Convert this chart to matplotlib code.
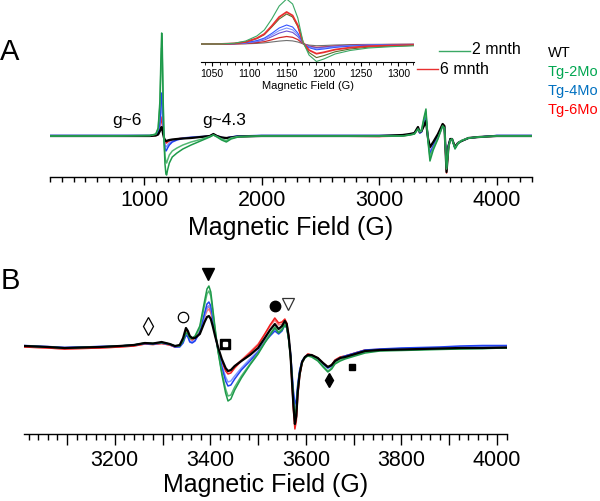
import matplotlib
matplotlib.use('Agg')
import matplotlib.pyplot as plt
from matplotlib.lines import Line2D
from matplotlib.ticker import MultipleLocator, FuncFormatter

plt.rcParams['font.family'] = ['Liberation Sans', 'DejaVu Sans']

# ---------------- data: panel A (full sweep) ----------------
xA = [200, 700, 1050, 1100, 1120, 1135, 1145, 1150, 1155, 1162, 1170, 1178, 1186, 1192, 1200,
      1215, 1240, 1280, 1330, 1400, 1480, 1560, 1590, 1620, 1660, 1700, 1740, 1800, 2000, 2500,
      3000, 3200, 3260, 3300, 3330, 3345, 3360, 3380, 3398, 3415, 3432, 3460, 3500, 3540, 3555,
      3573, 3590, 3605, 3620, 3645, 3670, 3700, 3760, 3850, 4000, 4300]
A_green1 = [0, 0, 0.5, 2, 8, 35, 85, 103, 90, 40, -5, -28, -38, -39, -34, -27, -21, -17, -13, -9,
            -5, -1, 1, -1, -4, -6, -3, -1, 0, 0, 0, 0, 1, 2, 7, 5, 6, 18, 27, -5, -25, -14, -3, 10, 8,
            -32, -12, -4, -3, -13, -8, -5, -2, -1, 0, 0]
A_green2 = [0, 0, 0.4, 1.7, 7, 30, 73, 88, 77, 34, -4, -20, -26, -27, -24, -19, -15, -12, -9, -6,
            -3.5, -0.5, 1, -0.5, -3, -4.5, -2, -0.5, 0, 0, 0, 0, 1, 2, 7, 4, 5, 16, 24, -4, -21, -12, -2,
            10, 8, -33, -11, -4, -3, -12, -7, -4.5, -2, -1, 0, 0]
A_blue1 = [0.5, 0.5, 0.5, 1, 4, 14, 36, 43, 37, 15, -4, -12, -15, -14, -12, -9, -6, -4, -2.5, -1.5,
           -1, 0, 1.5, 0, -1.5, -2, -1, 0, 0.5, 0.5, 0.5, 0.5, 1.5, 2.5, 8, 3, 4, 13, 20, -3, -18, -10,
           0, 11, 9, -28, -9, -3, -3, -12, -7, -5, -2, -1, 0.5, 0.5]
A_blue2 = [0.5, 0.5, 0.5, 1, 3, 10, 26, 32, 27, 11, -3, -9, -11, -10.5, -9, -7, -5, -3, -2, -1,
           -0.5, 0, 1.5, 0, -1.5, -2, -1, 0, 0.5, 0.5, 0.5, 0.5, 1.5, 2.5, 8, 3, 4, 12, 19, -3, -16, -9,
           0, 11, 9, -30, -9, -3, -3, -12, -7, -5, -2, -1, 0.5, 0.5]
A_red = [0, 0, 0, 0.5, 2, 6, 15, 19, 16, 6, -2, -5, -7, -7, -6, -5, -4, -3, -2, -1.5,
         -1, 0, 1.5, 0, -1.5, -2, -1, -0.5, 0, 0, -0.5, 0, 1.5, 2.5, 8, 3, 4, 11, 17, -2, -12, -7, 1,
         12, 10, -37, -10, -3, -3, -11, -7, -5, -2, -1, 0, 0]
A_black = [0, 0, 0, 0.5, 1.5, 5, 8, 9, 7, 2, -2, -4, -5, -5, -4.5, -4, -3.5, -3, -2.5, -2,
           -1, 0, 2, 0, -1.5, -2, -1.5, -0.5, 0, 0, 0, 1, 2, 3, 9, 4, 5, 10, 15, -2, -11, -6, 2, 12, 10,
           -36, -10, -3, -3, -11, -7, -5, -2, -1, 0, 0]

# ---------------- data: inset (g~6 region) ----------------
xI = [1035, 1060, 1080, 1095, 1110, 1120, 1130, 1140, 1150, 1158, 1165, 1172, 1180, 1190, 1200,
      1215, 1235, 1260, 1290, 1321]
I_green1 = [0, 0, 0.8, 3, 8, 14, 25, 38, 45, 40, 26, 2, -11, -17.5, -15, -10, -6.5, -4, -2.7, -1.8]
I_green2 = [0, 0, 0.5, 2, 5.4, 9.3, 17, 25, 30, 27, 17.4, 1.3, -8.5, -13.6, -11.6, -7.8, -5, -3.1, -2.1, -1.4]
I_red1 = [0, 0, 0.6, 2.1, 5.8, 10, 18, 27, 32, 28.5, 18.6, 1.4, -6.1, -9.7, -8.3, -5.6, -3.6, -2.2, -1.5, -1]
I_blue1 = [0, 0, 0.3, 1.3, 3.4, 5.9, 10.6, 16, 19, 17, 11, 0.8, -3.7, -5.8, -5, -3.4, -2.2, -1.3, -0.9, -0.6]
I_blue2 = [0, 0, 0.3, 1.1, 2.9, 5, 9, 13.4, 16, 14.2, 9.3, 0.7, -3, -4.9, -4.2, -2.8, -1.8, -1.1, -0.8, -0.5]
I_blue3 = [0, 0, 0.2, 0.9, 2.3, 4, 7.3, 10.9, 13, 11.6, 7.5, 0.6, -2.4, -3.9, -3.3, -2.2, -1.4, -0.9, -0.6, -0.4]
I_red2 = [0, 0, 0.1, 0.5, 1.4, 2.3, 4.2, 6.3, 7.5, 6.7, 4.4, 0.3, -2.1, -3.4, -2.9, -2, -1.3, -0.8, -0.5, -0.4]
I_grey = [0, 0, 0.1, 0.2, 0.6, 1.1, 2, 2.9, 3.5, 3.1, 2, 0.2, -1.1, -1.7, -1.5, -1, -0.6, -0.4, -0.3, -0.2]

# ---------------- data: panel B (g~2 region) ----------------
xB = [3011, 3060, 3095, 3130, 3169, 3210, 3240, 3263, 3280, 3298, 3315, 3326, 3336, 3343, 3349,
      3353, 3357, 3362, 3368, 3378, 3388, 3393, 3397, 3401, 3405, 3410, 3416, 3424, 3432, 3437,
      3443, 3451, 3465, 3483, 3500, 3514, 3525, 3535, 3543, 3550, 3556, 3560, 3564, 3568, 3571,
      3574, 3577, 3580, 3583, 3587, 3592, 3598, 3604, 3612, 3625, 3636, 3646, 3654, 3661, 3672,
      3682, 3696, 3710, 3724, 3755, 3800, 3839, 3880, 3923, 3970, 4021]
B_black = [0, -1, -2, -1.5, -1, 0, 1, 3, 2.5, 4, 2, 0, 1, 8, 18, 15, 10, 8, 8, 12,
           24, 29, 30, 27, 20, 10, -1, -13, -22, -25, -24, -20, -15, -9, -2, 8, 16, 22, 17, 20,
           25, 22, 10, -10, -36, -60, -78, -70, -46, -28, -16, -11, -9, -9, -12, -17, -21, -19, -15, -12,
           -11, -9, -7, -5, -4, -3.5, -3, -2.5, -2, -2, -1.5]
B_green1 = [0, -1, -2, -1.5, -1, 0, 1, 3, 2.5, 3.5, 2, 0, 0, 5, 13, 12, 8, 8, 10, 20,
            45, 57, 60, 54, 38, 18, -5, -28, -47, -55, -53, -44, -32, -19, -8, 3, 11, 18, 13, 16,
            21, 18, 6, -12, -32, -55, -70, -64, -44, -28, -17, -12, -10, -11, -15, -21, -26, -23, -18, -15,
            -13, -11, -9, -7, -5, -4.5, -4, -3.5, -3, -2.5, -2]
B_green2 = [0, -1, -2, -1.5, -1, 0, 1, 3, 2.5, 3.5, 2, 0, 0.5, 6, 14, 12, 8, 7, 9, 18,
            41, 52, 55, 50, 35, 16, -5, -26, -43, -50, -49, -41, -30, -18, -7, 4, 12, 19, 14, 17,
            22, 19, 7, -11, -31, -54, -68, -62, -42, -27, -16, -11, -10, -10, -14, -20, -25, -22, -17, -14,
            -12, -10, -8, -6, -4.5, -4, -3.5, -3, -2.5, -2.5, -2]
B_blue1 = [0.5, -0.5, -1.5, -1, -0.5, 0, 1, 2.5, 2, 3, 1.5, -1, -1, 3, 11, 9, 4, 3, 5, 14,
           33, 42, 44, 40, 29, 13, -4, -21, -35, -40, -39, -33, -24, -15, -6, 4, 10, 15, 12, 15,
           21, 18, 7, -8, -26, -45, -58, -54, -38, -24, -15, -11, -9, -10, -13, -18, -22, -20, -15, -12,
           -10, -8, -6, -4, -3, -2, -1.5, -1, 0, 0.5, 0.5]
B_blue2 = [0, -1, -1.5, -1, -0.5, 0, 1, 2.5, 2, 3, 1.5, -0.5, 0, 4, 12, 10, 5, 4, 6, 13,
           30, 38, 40, 37, 27, 12, -3, -19, -31, -36, -35, -30, -22, -13, -5, 5, 12, 17, 13, 17,
           22, 19, 8, -8, -28, -48, -62, -57, -40, -25, -15, -11, -9, -10, -13, -18, -22, -20, -15, -12,
           -10, -8.5, -6.5, -4.5, -3.5, -2.5, -2, -1.5, -1, -0.5, 0]
B_red1 = [-1, -2, -3, -2.5, -2, -1, 0, 2, 1.5, 2.5, 1, -1, 0, 6, 15, 13, 8, 6, 8, 14,
          31, 38, 40, 36, 26, 12, -2, -16, -25, -28, -27, -22, -15, -7, 1, 12, 21, 28, 23, 24,
          27, 23, 10, -12, -38, -64, -83, -75, -50, -30, -17, -11, -8, -9, -12, -17, -21, -19, -14, -11,
          -10, -8, -6, -4, -3.5, -3, -2.5, -2, -2, -1.5, -1.5]
B_red2 = [-1, -2, -3, -2.5, -2, -1, 0, 2, 1.5, 2.5, 1, -1, 0, 6, 15, 13, 8, 6, 8, 13,
          29, 35, 37, 33, 24, 11, -2, -15, -23, -26, -25, -20, -14, -6, 2, 12, 20, 26, 21, 22,
          26, 22, 10, -12, -37, -62, -80, -72, -48, -29, -17, -11, -8, -9, -12, -17, -21, -19, -14, -11,
          -10, -8, -6, -4, -3.5, -3, -2.5, -2, -2, -1.5, -1.5]

# marker annotations in panel B
mk_x = [3269, 3342, 3395, 3430, 3535, 3562, 3648, 3696]
mk_y = [20, 29, 72, 2, 40, 42, -34, -21]

legend_groups = ['WT', 'Tg-2Mo', 'Tg-4Mo', 'Tg-6Mo']
legend_colors = ['#000000', '#00a650', '#0070c0', '#ff0000']

# ---------------- figure ----------------
W, H = 600, 502
fig = plt.figure(figsize=(6, 5.02), dpi=100)


def box(l, r, t, b):
    return [l / W, 1 - b / H, (r - l) / W, (b - t) / H]


def style_axis(ax):
    for s in ['top', 'right', 'left']:
        ax.spines[s].set_visible(False)
    ax.spines['bottom'].set_linewidth(1.0)
    ax.set_yticks([])
    ax.patch.set_alpha(0)


c_g1, c_g2 = '#1e9a4a', '#52b873'
c_b1, c_b2 = '#2040f0', '#7f96ff'
c_r1, c_r2 = '#f02020', '#ff7a7a'

# ---- Panel A ----
axA = fig.add_axes(box(50, 532, 30, 178))
style_axis(axA)
lw = 1.1
axA.plot(xA, A_red, color=c_r1, lw=lw)
axA.plot(xA, A_blue2, color=c_b2, lw=lw)
axA.plot(xA, A_blue1, color=c_b1, lw=lw)
axA.plot(xA, A_black, color='black', lw=1.6)
axA.plot(xA, A_green2, color=c_g2, lw=lw)
axA.plot(xA, A_green1, color=c_g1, lw=lw)
axA.set_xlim(200, 4300)
axA.set_ylim(-41, 107)
axA.xaxis.set_major_locator(MultipleLocator(1000))
axA.xaxis.set_minor_locator(MultipleLocator(100))
axA.tick_params(axis='x', which='major', length=6, width=1, pad=3, labelsize=15.5)
axA.tick_params(axis='x', which='minor', length=3.5, width=1)

# ---- Inset ----
axI = fig.add_axes(box(201, 414, 0, 63))
style_axis(axI)
axI.plot(xI, I_grey, color='#707070', lw=0.8)
axI.plot(xI, I_red2, color='#d02828', lw=0.9)
axI.plot(xI, I_blue3, color='#6a50d0', lw=0.8)
axI.plot(xI, I_blue2, color='#8095ff', lw=0.8)
axI.plot(xI, I_blue1, color='#3555ff', lw=0.8)
axI.plot(xI, I_green2, color='#5a6e2a', lw=0.8)
axI.plot(xI, I_red1, color='#e83030', lw=1.3)
axI.plot(xI, I_green1, color='#3aa864', lw=0.8)
axI.set_xlim(1035, 1321)
axI.set_ylim(-18, 45)
axI.xaxis.set_major_locator(MultipleLocator(50))
axI.xaxis.set_minor_locator(MultipleLocator(10))
axI.tick_params(axis='x', which='major', length=3, width=0.8, pad=1.5, labelsize=7.5)
axI.tick_params(axis='x', which='minor', length=2, width=0.6)
for s in axI.spines.values():
    s.set_linewidth(0.8)

# ---- Panel B ----
axB = fig.add_axes(box(24, 507, 265, 435))
style_axis(axB)
axB.plot(xB, B_red2, color=c_r2, lw=lw)
axB.plot(xB, B_red1, color=c_r1, lw=lw)
axB.plot(xB, B_blue2, color=c_b2, lw=lw)
axB.plot(xB, B_blue1, color=c_b1, lw=lw)
axB.plot(xB, B_green2, color=c_g2, lw=lw)
axB.plot(xB, B_green1, color=c_g1, lw=lw)
axB.plot(xB, B_black, color='black', lw=1.6)
axB.set_xlim(3010, 4021)
axB.set_ylim(-88, 82)
axB.xaxis.set_major_locator(MultipleLocator(100))
axB.xaxis.set_minor_locator(MultipleLocator(20))
axB.xaxis.set_major_formatter(FuncFormatter(lambda v, p: f'{int(round(v))}' if int(round(v)) % 200 == 0 else ''))
axB.tick_params(axis='x', which='major', length=8, width=1, pad=3, labelsize=15.5)
axB.tick_params(axis='x', which='minor', length=4.5, width=1)

# markers
mk = dict(clip_on=False, zorder=10, linestyle='none')
axB.plot(mk_x[0], mk_y[0], marker='d', ms=9, mfc='white', mec='black', mew=0.9, **mk)
axB.plot(mk_x[1], mk_y[1], marker='o', ms=7.5, mfc='white', mec='black', mew=0.9, **mk)
axB.plot(mk_x[2], mk_y[2], marker='v', ms=8, mfc='black', mec='black', **mk)
axB.plot(mk_x[3], mk_y[3], marker='s', ms=7, mfc='black', mec='black', **mk)
axB.plot(mk_x[3], mk_y[3], marker='s', ms=2.5, mfc='white', mec='white', **mk)
axB.plot(mk_x[4], mk_y[4], marker='o', ms=7.5, mfc='black', mec='black', **mk)
axB.plot(mk_x[5], mk_y[5], marker='v', ms=8, mfc='white', mec='#333333', mew=0.9, **mk)
axB.plot(mk_x[6], mk_y[6], marker='d', ms=7, mfc='black', mec='black', **mk)
axB.plot(mk_x[7], mk_y[7], marker='s', ms=5, mfc='black', mec='black', **mk)


# ---------------- text ----------------
def ftext(px, py, s, **kw):
    fig.text(px / W, 1 - py / H, s, **kw)


ftext(291, 228, 'Magnetic Field (G)', fontsize=18, ha='center', va='center')
ftext(266, 485, 'Magnetic Field (G)', fontsize=18, ha='center', va='center')
ftext(308, 86, 'Magnetic Field (G)', fontsize=8, ha='center', va='center')
ftext(10, 52, 'A', fontsize=21, ha='center', va='center')
ftext(10, 281, 'B', fontsize=21, ha='center', va='center')
ftext(127, 121, 'g~6', fontsize=12.5, ha='center', va='center')
ftext(224, 120, 'g~4.3', fontsize=12.5, ha='center', va='center')

# inset legend
fig.add_artist(Line2D([439 / W, 470 / W], [1 - 51.5 / H, 1 - 51.5 / H], color='#3aa864', lw=1.0))
fig.add_artist(Line2D([417 / W, 438 / W], [1 - 70 / H, 1 - 70 / H], color='#e83030', lw=1.0))
ftext(472, 50, '2 mnth', fontsize=11.5, ha='left', va='center')
ftext(440, 70, '6 mnth', fontsize=11.5, ha='left', va='center')

# group legend
for i, (g, c) in enumerate(zip(legend_groups, legend_colors)):
    ftext(548, 53 + i * 19, g, fontsize=10.5, ha='left', va='center', color=c)

fig.savefig('out.png', dpi=100)
